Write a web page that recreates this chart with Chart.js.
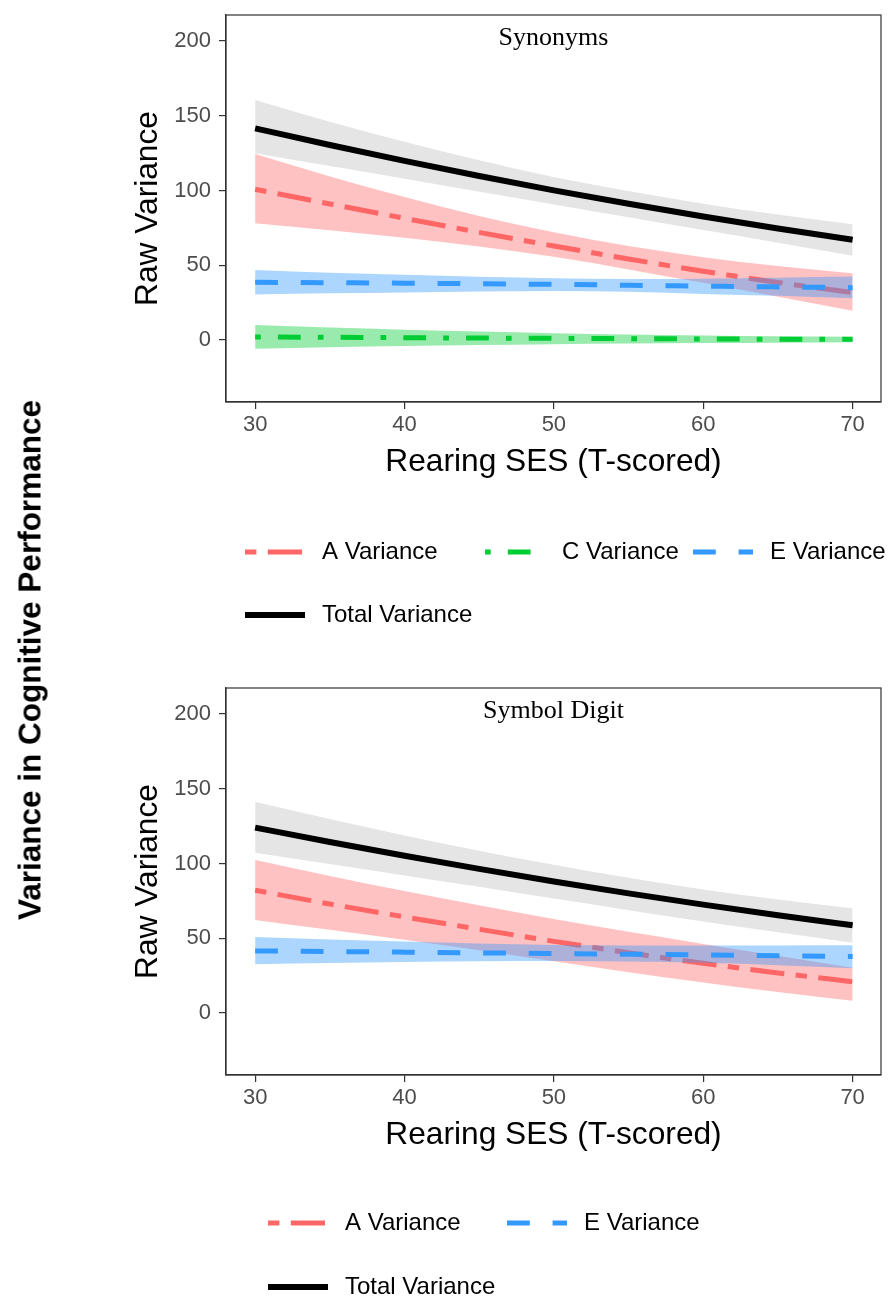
<!DOCTYPE html>
<html>
<head>
<meta charset="utf-8">
<title>Variance by rearing SES</title>
<script src="https://cdn.jsdelivr.net/npm/chart.js@4.4.1/dist/chart.umd.min.js"></script>
<style>
  body { margin: 0; background: #ffffff; }
  #page { position: relative; width: 888px; height: 1300px; overflow: hidden; }
  .panel { position: absolute; left: 0; width: 888px; }
  #outerLabel {
    position: absolute; left: 30px; top: 660px;
    transform: translate(-50%, -50%) rotate(-90deg);
    font: bold 31.5px "Liberation Sans", Arial, sans-serif;
    color: #000; white-space: nowrap;
  }
</style>
</head>
<body>
<div id="page">
  <div class="panel" style="top:0"><canvas id="synonymsChart" width="888" height="673"></canvas></div>
  <div class="panel" style="top:673px"><canvas id="symbolChart" width="888" height="627"></canvas></div>
  <div id="outerLabel">Variance in Cognitive Performance</div>
</div>
<script>
// x positions (T-scored rearing SES) shared by every curve
const ses = [30, 35, 40, 45, 50, 55, 60, 65, 70];
const xTicks = [30, 40, 50, 60, 70];
const yTicks = [0, 50, 100, 150, 200];

// Synonyms
const synA    = [100.8, 91.0, 81.4, 72.0, 62.9, 54.2, 46.0, 38.5, 31.7];
const synAHi  = [124.4, 109.4, 95.6, 83.0, 72.0, 62.8, 55.4, 49.5, 44.6];
const synALo  = [78.0, 73.4, 68.4, 62.6, 55.6, 47.2, 38.2, 28.9, 19.6];
const synC    = [2.0, 1.8, 1.5, 1.3, 1.1, 0.9, 0.7, 0.5, 0.4];
const synCHi  = [10.0, 8.3, 6.9, 5.6, 4.5, 3.7, 3.0, 2.5, 2.2];
const synCLo  = [-5.8, -4.8, -4.0, -3.4, -2.8, -2.4, -2.1, -1.8, -1.6];
const synE    = [38.6, 38.3, 38.0, 37.6, 37.2, 36.6, 36.0, 35.5, 35.0];
const synEHi  = [46.8, 45.0, 43.6, 42.3, 41.3, 40.8, 41.0, 41.6, 42.4];
const synELo  = [30.5, 31.2, 31.8, 32.4, 32.8, 32.2, 30.8, 29.5, 27.9];
const synTot   = [141.6, 130.4, 119.8, 109.7, 100.1, 91.1, 82.6, 74.6, 67.1];
const synTotHi = [160.5, 146.0, 132.6, 120.2, 109.0, 99.6, 91.2, 83.9, 77.4];
const synTotLo = [124.9, 116.3, 107.8, 99.2, 90.7, 82.1, 73.5, 65.0, 56.4];

// Symbol Digit
const sdA    = [82.1, 72.9, 64.3, 56.0, 47.9, 40.3, 33.2, 26.8, 20.9];
const sdAHi  = [102.3, 91.7, 81.6, 72.0, 62.9, 54.3, 46.2, 38.2, 30.3];
const sdALo  = [62.2, 55.6, 48.9, 41.9, 34.6, 27.3, 20.4, 14.0, 8.2];
const sdE    = [41.5, 41.1, 40.7, 40.2, 39.8, 39.3, 38.8, 38.2, 37.7];
const sdEHi  = [50.8, 49.2, 47.8, 46.5, 45.5, 45.2, 45.1, 45.2, 45.3];
const sdELo  = [32.6, 33.4, 34.1, 34.6, 34.8, 34.4, 33.6, 32.0, 29.9];
const sdTot   = [124.0, 114.4, 105.2, 96.4, 88.0, 80.0, 72.5, 65.4, 58.7];
const sdTotHi = [141.3, 129.7, 118.8, 108.6, 99.1, 90.4, 82.6, 75.9, 70.0];
const sdTotLo = [107.2, 99.6, 92.0, 84.4, 76.5, 68.8, 61.2, 54.0, 47.0];

const SANS = '"Liberation Sans", Arial, sans-serif';
const SERIF = '"Liberation Serif", "Times New Roman", serif';
Chart.defaults.font.family = SANS;

const styles = {
  'A Variance':     { line: '#FF6666', band: 'rgba(255,102,102,0.4)', dash: [11.4, 11.4, 34.2, 11.4], width: 5 },
  'C Variance':     { line: '#00CC33', band: 'rgba(0,204,51,0.4)',    dash: [5.7, 17.1, 22.8, 17.1], width: 5 },
  'E Variance':     { line: '#3399FF', band: 'rgba(51,153,255,0.4)',  dash: [22.8, 22.8], width: 5 },
  'Total Variance': { line: '#000000', band: 'rgba(0,0,0,0.1)',       dash: [], width: 6 }
};

const pts = ys => ses.map((x, i) => ({ x: x, y: ys[i] }));

// each component: ribbon (upper filled down to lower) then its line;
// later components are stacked on top via decreasing `order`
function buildDatasets(series) {
  const out = [];
  let order = series.length * 3;
  series.forEach(s => {
    const st = styles[s.name];
    const common = { pointRadius: 0, cubicInterpolationMode: 'monotone' };
    out.push({ ...common, label: s.name + ' hi', data: pts(s.hi), borderWidth: 0,
      backgroundColor: st.band, fill: '+1', order: order-- });
    out.push({ ...common, label: s.name + ' lo', data: pts(s.lo), borderWidth: 0, fill: false, order: order-- });
    out.push({ ...common, label: s.name, data: pts(s.mid), borderColor: st.line,
      borderWidth: st.width, borderDash: st.dash, borderCapStyle: 'butt', fill: false, order: order-- });
  });
  return out;
}

const panelFrame = {
  id: 'panelFrame',
  afterDatasetsDraw(chart, args, opts) {
    const { ctx, chartArea: a } = chart;
    ctx.save();
    ctx.strokeStyle = '#333333';
    ctx.lineWidth = 1.2;
    ctx.strokeRect(a.left, a.top, a.right - a.left, a.bottom - a.top);
    ctx.fillStyle = '#000';
    ctx.font = '26px ' + SERIF;
    ctx.textAlign = 'center';
    ctx.textBaseline = 'middle';
    ctx.fillText(opts.text, (a.left + a.right) / 2, a.top + 23);
    ctx.restore();
  }
};

const keyLegend = {
  id: 'keyLegend',
  afterDraw(chart, args, opts) {
    const ctx = chart.ctx;
    opts.items.forEach(item => {
      const st = styles[item.label];
      ctx.save();
      ctx.strokeStyle = st.line;
      ctx.lineWidth = st.width;
      ctx.lineCap = 'butt';
      ctx.setLineDash(st.dash);
      ctx.beginPath();
      ctx.moveTo(item.x, item.y);
      ctx.lineTo(item.x + 60, item.y);
      ctx.stroke();
      ctx.setLineDash([]);
      ctx.fillStyle = '#000';
      ctx.font = '24px ' + SANS;
      ctx.textAlign = 'left';
      ctx.textBaseline = 'middle';
      ctx.fillText(item.label, item.x + 77, item.y);
      ctx.restore();
    });
  }
};

function makeChart(id, title, series, legendItems, bottomPad) {
  return new Chart(document.getElementById(id), {
    type: 'line',
    data: { datasets: buildDatasets(series) },
    options: {
      responsive: false,
      animation: false,
      layout: { padding: { top: 15, right: 7, left: 0, bottom: bottomPad } },
      plugins: {
        legend: { display: false },
        tooltip: { enabled: false },
        filler: { drawTime: 'beforeDatasetDraw' },
        panelFrame: { text: title },
        keyLegend: { items: legendItems }
      },
      scales: {
        x: {
          type: 'linear', min: 28.05, max: 71.9,
          afterFit(scale) { scale.height = 85; scale.paddingLeft = 0; scale.paddingRight = 0; },
          afterBuildTicks(scale) { scale.ticks = xTicks.map(v => ({ value: v })); },
          ticks: { color: '#4D4D4D', font: { size: 22 }, padding: 3, maxRotation: 0 },
          grid: { drawOnChartArea: false, tickLength: 7, color: '#333333', lineWidth: 1.2 },
          border: { color: '#333333', width: 1.2 },
          title: { display: true, text: 'Rearing SES (T-scored)', color: '#000',
            font: { size: 31.7 }, padding: { top: 0, bottom: 6 } }
        },
        y: {
          min: -41.5, max: 217.4,
          afterFit(scale) { scale.width = 226; scale.paddingTop = 0; scale.paddingBottom = 0; },
          afterBuildTicks(scale) { scale.ticks = yTicks.map(v => ({ value: v })); },
          ticks: { color: '#4D4D4D', font: { size: 22 }, padding: 8 },
          grid: { drawOnChartArea: false, tickLength: 7, color: '#333333', lineWidth: 1.2 },
          border: { color: '#333333', width: 1.2 },
          title: { display: true, text: 'Raw Variance', color: '#000',
            font: { size: 31.7 }, padding: { top: 129, bottom: 0 } }
        }
      }
    },
    plugins: [panelFrame, keyLegend]
  });
}

makeChart('synonymsChart', 'Synonyms', [
  { name: 'A Variance', mid: synA, hi: synAHi, lo: synALo },
  { name: 'C Variance', mid: synC, hi: synCHi, lo: synCLo },
  { name: 'E Variance', mid: synE, hi: synEHi, lo: synELo },
  { name: 'Total Variance', mid: synTot, hi: synTotHi, lo: synTotLo }
], [
  { label: 'A Variance', x: 245, y: 552 },
  { label: 'C Variance', x: 485, y: 552 },
  { label: 'E Variance', x: 693, y: 552 },
  { label: 'Total Variance', x: 245, y: 615 }
], 186);

makeChart('symbolChart', 'Symbol Digit', [
  { name: 'A Variance', mid: sdA, hi: sdAHi, lo: sdALo },
  { name: 'E Variance', mid: sdE, hi: sdEHi, lo: sdELo },
  { name: 'Total Variance', mid: sdTot, hi: sdTotHi, lo: sdTotLo }
], [
  { label: 'A Variance', x: 268, y: 550 },
  { label: 'E Variance', x: 507, y: 550 },
  { label: 'Total Variance', x: 268, y: 614 }
], 140);
</script>
</body>
</html>
